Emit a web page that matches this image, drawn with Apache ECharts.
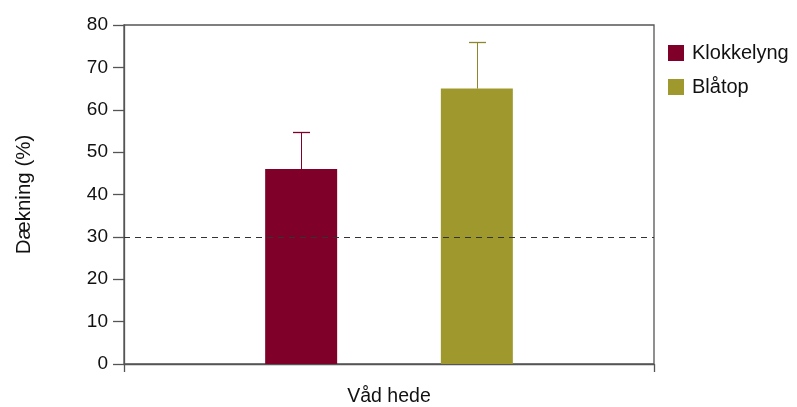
<!DOCTYPE html>
<html>
<head>
<meta charset="utf-8">
<script src="https://cdn.jsdelivr.net/npm/echarts@6/dist/echarts.min.js"></script>
<style>
  html, body { margin: 0; padding: 0; background: #fff; }
  #chart { width: 797px; height: 407px; }
</style>
</head>
<body>
<div id="chart"></div>
<script>
// Coverage by species on wet heath, with upper error bars
const categories = ['Våd hede'];
const seriesNames = ['Klokkelyng', 'Blåtop'];
const meanValues = [46, 65];
const upperValues = [54.8, 76];
const seriesColors = ['#7f0028', '#9f992d'];
const errorColors = ['#7f0028', '#8c872a'];
const thresholdValue = 30;

const chart = echarts.init(document.getElementById('chart'));
const FONT = 'Liberation Sans, Arial, sans-serif';
const BAR_W = 72;
const GAP_RATIO = 1.44;

const barSeries = seriesNames.map((name, i) => ({
  name: name,
  type: 'bar',
  data: [meanValues[i]],
  barWidth: BAR_W,
  barGap: (GAP_RATIO * 100) + '%',
  itemStyle: { color: seriesColors[i] },
  z: 2
}));

// error bar drawn on top of each bar, shifted to the bar's centre
const errorSeries = seriesNames.map((name, i) => ({
  name: name + ' error',
  type: 'custom',
  data: [[0, meanValues[i], upperValues[i]]],
  renderItem: function (params, api) {
    const base = api.coord([api.value(0), api.value(1)]);
    const top = api.coord([api.value(0), api.value(2)]);
    const groupW = BAR_W * 2 + BAR_W * GAP_RATIO;
    const x = Math.round(base[0] - groupW / 2 + BAR_W / 2 + i * (BAR_W + BAR_W * GAP_RATIO)) + 0.5;
    const yTop = Math.round(top[1]) + 0.5;
    const half = 8.5;
    return {
      type: 'group',
      children: [
        { type: 'line', shape: { x1: x, y1: base[1], x2: x, y2: yTop },
          style: { stroke: errorColors[i], lineWidth: 1 } },
        { type: 'line', shape: { x1: x - half, y1: yTop, x2: x + half, y2: yTop },
          style: { stroke: errorColors[i], lineWidth: 1.3 } }
      ]
    };
  },
  z: 3,
  silent: true
}));

barSeries[0].markLine = {
  silent: true,
  symbol: 'none',
  label: { show: false },
  lineStyle: { color: '#333', type: [6, 5], width: 1 },
  data: [{ yAxis: thresholdValue }]
};

chart.setOption({
  animation: false,
  backgroundColor: '#fff',
  grid: {
    left: 124, top: 25, width: 530, height: 341,
    show: true, borderColor: '#555', borderWidth: 1.3, backgroundColor: 'transparent'
  },
  legend: {
    data: seriesNames,
    orient: 'vertical',
    left: 663, top: 38,
    itemWidth: 16, itemHeight: 16,
    itemGap: 14,
    icon: 'rect',
    textStyle: { fontFamily: FONT, fontSize: 20, color: '#111', padding: [0, 0, 0, 3] }
  },
  xAxis: {
    type: 'category',
    data: categories,
    axisLine: { lineStyle: { color: '#555', width: 1.3 } },
    axisTick: { show: true, alignWithLabel: false, length: 8, lineStyle: { color: '#555', width: 1.3 } },
    axisLabel: { fontFamily: FONT, fontSize: 19.5, color: '#111', margin: 23 }
  },
  yAxis: {
    type: 'value',
    min: 0, max: 80, interval: 10,
    name: 'Dækning (%)',
    nameLocation: 'middle',
    nameGap: 89,
    nameTextStyle: { fontFamily: FONT, fontSize: 20.5, color: '#111' },
    axisLine: { show: true, lineStyle: { color: '#555', width: 1.3 } },
    axisTick: { show: true, length: 11, lineStyle: { color: '#555', width: 1.3 } },
    axisLabel: { fontFamily: FONT, fontSize: 19, color: '#111', margin: 16 },
    splitLine: { show: false }
  },
  series: barSeries.concat(errorSeries)
});
</script>
</body>
</html>
